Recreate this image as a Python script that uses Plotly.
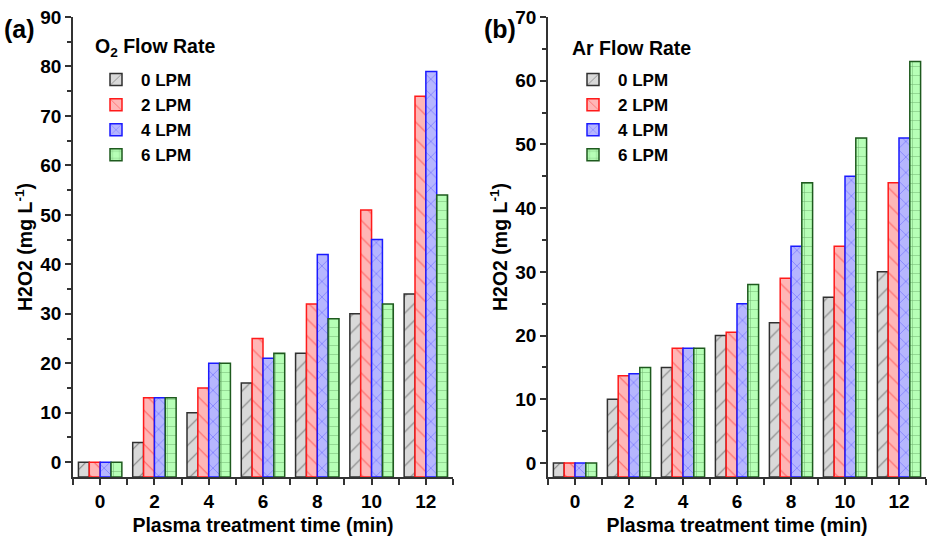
import plotly.graph_objects as go

time_min = [0, 2, 4, 6, 8, 10, 12]
flow_labels = ["0 LPM", "2 LPM", "4 LPM", "6 LPM"]

# Panel (a): O2 flow rate
o2_values = {
    "0 LPM": [0, 4, 10, 16, 22, 30, 34],
    "2 LPM": [0, 13, 15, 25, 32, 51, 74],
    "4 LPM": [0, 13, 20, 21, 42, 45, 79],
    "6 LPM": [0, 13, 20, 22, 29, 32, 54],
}
# Panel (b): Ar flow rate
ar_values = {
    "0 LPM": [0, 10, 15, 20, 22, 26, 30],
    "2 LPM": [0, 13.7, 18, 20.5, 29, 34, 44],
    "4 LPM": [0, 14, 18, 25, 34, 45, 51],
    "6 LPM": [0, 15, 18, 28, 44, 51, 63],
}

styles = {
    "0 LPM": dict(fill="#d9d9d9", line="#303030", shape="/", size=12),
    "2 LPM": dict(fill="#ffb6b6", line="#ff1a1a", shape="\\", size=12),
    "4 LPM": dict(fill="#b6b6ff", line="#1a1aff", shape="x", size=11),
    "6 LPM": dict(fill="#b6ffb6", line="#1e5a1e", shape="+", size=9),
}

YMIN_A, YMAX_A = -3, 90
YMIN_B, YMAX_B = -2.2, 70

FONT = "Liberation Sans"
T, B = 17, 62
PLOT_H = 539 - T - B


def py(pix):
    """convert a pixel row to paper y (plot area)"""
    return 1 - (pix - T) / PLOT_H


fig = go.Figure()

for data, leg, xa, ya, ymin in [(o2_values, "legend", "x", "y", YMIN_A),
                                (ar_values, "legend2", "x2", "y2", YMIN_B)]:
    for lab in flow_labels:
        s = styles[lab]
        fig.add_trace(go.Bar(
            x=time_min, y=[v - ymin for v in data[lab]], base=ymin,
            name="<b>%s</b>" % lab, legend=leg, xaxis=xa, yaxis=ya,
            marker=dict(color=s["fill"], line=dict(color=s["line"], width=1.5),
                        pattern=dict(shape=s["shape"], fgcolor=s["line"], size=s["size"],
                                     solidity=0.1, fillmode="overlay", bgcolor=s["fill"])),
        ))

tickfont = dict(family=FONT, size=19, color="black")
titlefont = dict(family=FONT, size=19.5, color="black")


def xaxis(domain, anchor):
    return dict(domain=domain, anchor=anchor, range=[-1, 13],
                tickmode="array", tickvals=time_min,
                ticktext=["<b>%d</b>" % t for t in time_min],
                ticks="outside", ticklen=6, tickwidth=1.5, tickcolor="#333",
                minor=dict(tickvals=[-1, 1, 3, 5, 7, 9, 11, 13], ticks="outside",
                           ticklen=6, tickwidth=1.5, tickcolor="#333"),
                showline=True, linecolor="#333", linewidth=1.5,
                showgrid=False, zeroline=False, tickfont=tickfont,
                title=dict(text="<b>Plasma treatment time (min)</b>", font=titlefont, standoff=8),
                automargin=False)


def yaxis(domain, anchor, rng, top):
    vals = list(range(0, top + 1, 10))
    return dict(domain=domain, anchor=anchor, range=rng,
                tickmode="array", tickvals=vals, ticktext=["<b>%d</b>" % v for v in vals],
                ticks="outside", ticklen=6, tickwidth=1.5, tickcolor="#333",
                minor=dict(tickvals=list(range(5, top, 10)), ticks="outside",
                           ticklen=4, tickwidth=1.5, tickcolor="#333"),
                showline=True, linecolor="#333", linewidth=1.5,
                showgrid=False, zeroline=False, tickfont=tickfont,
                title=dict(text="<b>H2O2 (mg L<sup>-1</sup>)</b>", font=titlefont, standoff=2),
                automargin=False)


legfont = dict(family=FONT, size=17, color="black")
legtitlefont = dict(family=FONT, size=19.5, color="black")

fig.update_layout(
    width=931, height=539,
    margin=dict(l=0, r=0, t=T, b=B),
    paper_bgcolor="white", plot_bgcolor="white",
    barmode="group", bargap=0.2, bargroupgap=0.0,
    xaxis=xaxis([73 / 931, 453 / 931], "y"),
    yaxis=yaxis([0, 1], "x", [YMIN_A, YMAX_A], 90),
    xaxis2=xaxis([548 / 931, 926 / 931], "y2"),
    yaxis2=yaxis([0, 1], "x2", [YMIN_B, YMAX_B], 70),
    legend=dict(x=91 / 931, y=py(62), xref="paper", yref="paper",
                xanchor="left", yanchor="top", bgcolor="rgba(0,0,0,0)",
                font=legfont, itemwidth=40, tracegroupgap=0),
    legend2=dict(x=568 / 931, y=py(62), xref="paper", yref="paper",
                 xanchor="left", yanchor="top", bgcolor="rgba(0,0,0,0)",
                 font=legfont, itemwidth=40, tracegroupgap=0),
    annotations=[
        dict(text="<b>(a)</b>", x=2 / 931, y=py(29), xref="paper", yref="paper",
             xanchor="left", yanchor="middle", showarrow=False,
             font=dict(family=FONT, size=25, color="black")),
        dict(text="<b>(b)</b>", x=482 / 931, y=py(29), xref="paper", yref="paper",
             xanchor="left", yanchor="middle", showarrow=False,
             font=dict(family=FONT, size=25, color="black")),
        dict(text="<b>O<sub>2</sub> Flow Rate</b>", x=93 / 931, y=py(48), xref="paper", yref="paper",
             xanchor="left", yanchor="middle", showarrow=False, font=legtitlefont),
        dict(text="<b>Ar Flow Rate</b>", x=570 / 931, y=py(48), xref="paper", yref="paper",
             xanchor="left", yanchor="middle", showarrow=False, font=legtitlefont),
    ],
    showlegend=True,
)

fig.write_html("out.html")
